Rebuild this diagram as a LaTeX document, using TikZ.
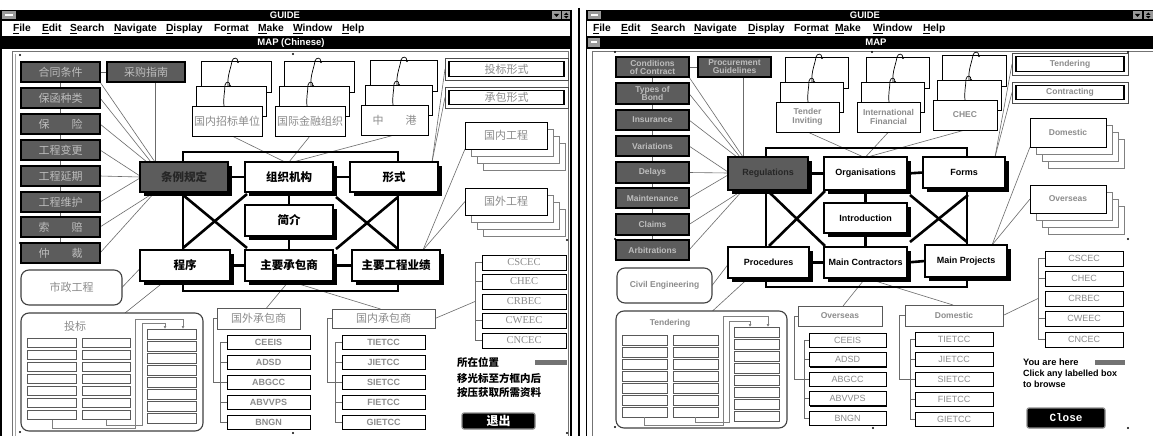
\documentclass[tikz,border=0pt]{standalone}
\usepackage{fontspec}
\setmainfont{Liberation Sans}
\newfontfamily\cjk{Noto Sans CJK SC}
\newfontfamily\serifL{Liberation Serif}
\newfontfamily\monoL{Liberation Mono}
\usetikzlibrary{shadows,arrows.meta}
\definecolor{dbox}{gray}{0.36}
\definecolor{dtxt}{gray}{0.74}
\definecolor{gtxt}{gray}{0.55}
\definecolor{gline}{gray}{0.42}
\definecolor{barc}{gray}{0.45}
\newcommand\myfs[1]{\fontsize{#1}{#1}\selectfont}
\newcommand\zhf{\cjk\myfs{11}}
\newcommand\zhb{\cjk\bfseries\myfs{11.5}}
\newcommand\enb{\bfseries\myfs{8.5}}
\newcommand\enm{\bfseries\myfs{9}}
\newcommand\mybox[7][]{\node[#1,minimum width={((#5)-(#3))*1pt},minimum height={((#6)-(#4))*1pt}] (#2) at ({((#3)+(#5))/2},{((#4)+(#6))/2}) {#7};}
\newcommand\cards[7]{%
\draw[card] ({#2+9},{#3-44}) rectangle ++(#4,#5);
\draw[wire] ({#2+36},{#3-20}) .. controls ({#2+35},{#3-30}) and ({#2+39},{#3-38}) .. ({#2+40},{#3-45}) .. controls ({#2+41},{#3-49}) and ({#2+46},{#3-49}) .. ({#2+46},{#3-44});
\fill ({#2+46},{#3-44}) circle (1.2pt);
\draw[card] ({#2+4},{#3-20}) rectangle ++(#4,#5);
\draw[wire] ({#2+32},{#3}) .. controls ({#2+31},{#3-8}) and ({#2+33},{#3-15}) .. ({#2+33},{#3-21}) .. controls ({#2+34},{#3-25}) and ({#2+38},{#3-25}) .. ({#2+38},{#3-20});
\fill ({#2+38},{#3-20}) circle (1.2pt);
\mybox[card,text=gtxt,font=#7,align=center]{#1}{#2}{#3}{#2+#4}{#3+#5}{#6}}
\newcommand\stack[7]{%
\foreach \k in {3,2,1}{\draw[backcard] ({#2+6*\k},{#3+7*\k}) rectangle ({#4+6*\k},{#5+7*\k});}
\mybox[card,text=gtxt,font=#7]{#1}{#2}{#3}{#4}{#5}{#6}}
\newcommand\dbl[7]{\draw[black!70,line width=0.9pt,fill=white] (#2,#3) rectangle (#4,#5);
\mybox[draw=black,line width=1.4pt,fill=white,text=gtxt,font=#7]{#1}{#2+4}{#3+3.5}{#4-4}{#5-3.5}{#6}}
\pgfdeclarelayer{bgw}\pgfdeclarelayer{bgl}
\pgfsetlayers{bgw,bgl,main}
\begin{document}
\begin{tikzpicture}[x=1pt,y=-1pt,
 every node/.style={inner sep=0pt,outer sep=0pt},
 dk/.style={draw=black,line width=1.1pt,fill=dbox,text=dtxt,general shadow={fill=black,shadow xshift=1.2pt,shadow yshift=-1.2pt}},
 mainb/.style={draw=black,line width=1.4pt,fill=white,general shadow={fill=black,shadow xshift=3.5pt,shadow yshift=-3.5pt}},
 regb/.style={mainb,fill=dbox,text=black!85},
 card/.style={draw=black,line width=1pt,fill=white,general shadow={fill=black,shadow xshift=1.2pt,shadow yshift=-1.2pt}},
 backcard/.style={draw=black!50,line width=0.8pt,fill=white},
 lbox/.style={draw=black,line width=0.9pt,fill=white,text=gtxt,general shadow={fill=black,shadow xshift=1pt,shadow yshift=-1pt}},
 gbox/.style={draw=black!65,line width=0.9pt,fill=white,text=gtxt},
 rbox/.style={draw=black!75,line width=1.1pt,rounded corners=8pt,fill=white,text=gtxt},
 sbox/.style={draw=black!65,line width=0.8pt,fill=white},
 conn/.style={draw=gline,line width=0.6pt},
 bl/.style={draw=black,line width=2.6pt},
 btn/.style={fill=black,draw=black!45,line width=1.2pt,rounded corners=2pt,text=white},
 wire/.style={draw=black,line width=0.7pt},
 gconn/.style={draw=black!50,line width=1pt},
 tip/.style={-{Latex[length=3pt,width=3pt]}},
 menu/.style={anchor=west,font=\bfseries\myfs{10.3}}
]
\useasboundingbox (0,0) rectangle (1153,436);
\begin{pgfonlayer}{bgw}
\fill[white] (0,0) rectangle (1153,436);
\end{pgfonlayer}

% ================= LEFT WINDOW (Chinese) =================
\fill[black] (0,10) rectangle (571,21);
\fill[black!40] (2,11.5) rectangle (16,19.5); \fill[white] (5,14.5) rectangle (13,16.5);
\node[text=white,font=\bfseries\myfs{9.5}] (zt) at (285,15.7) {GUIDE};
\fill[black!40] (552,11.5) rectangle (561,19.5); \fill (554,14) -- (559,14) -- (556.5,17) -- cycle;
\fill[black!40] (562,11.5) rectangle (570.5,19.5); \fill (564,14.8) -- (568.5,14.8) -- (566.25,12.5) -- cycle; \fill (564,16.2) -- (568.5,16.2) -- (566.25,18.5) -- cycle;
\foreach \x/\t in {13/{\underline{F}ile},42/{\underline{E}dit},70/{\underline{S}earch},114/{\underline{N}avigate},166/{\underline{D}isplay},214/{Fo\underline{r}mat},258/{\underline{M}ake},293/{\underline{W}indow},342/{\underline{H}elp}}
  \node[menu] at (\x,29) {\t};
\fill[black] (0,36) rectangle (571,49);
\node[text=white,font=\bfseries\myfs{9.5}] (zmap) at (291,42.7) {MAP (Chinese)};
\draw[black,line width=1.5pt] (0.75,10) -- (0.75,436);
\draw[black,line width=1.2pt] (571,10) -- (571,436);
\draw[black!55,line width=0.8pt] (12,436) -- (12,51.5) -- (568,51.5) -- (568,436);
\draw[black!35,line width=0.6pt] (15,436) -- (15,54);

% dark column
\mybox[dk,font=\zhf]{zc1}{21}{62}{100}{82}{合同条件}
\mybox[dk,font=\zhf]{zc2}{21}{88}{100}{108}{保函种类}
\mybox[dk,font=\zhf]{zc3}{21}{114}{100}{134}{保\hspace{2em}险}
\mybox[dk,font=\zhf]{zc4}{21}{140}{100}{160}{工程变更}
\mybox[dk,font=\zhf]{zc5}{21}{166}{100}{186}{工程延期}
\mybox[dk,font=\zhf]{zc6}{21}{192}{100}{212}{工程维护}
\mybox[dk,font=\zhf]{zc7}{21}{217}{100}{237}{索\hspace{2em}赔}
\mybox[dk,font=\zhf]{zc8}{21}{243}{100}{263}{仲\hspace{2em}裁}
\mybox[dk,font=\zhf]{zcg}{107}{62}{185}{82}{采购指南}

% central boxes
\mybox[regb,font=\zhb]{zreg}{140}{162}{228}{192}{条例规定}
\mybox[mainb,font=\zhb]{zorg}{245}{162}{333}{192}{组织机构}
\mybox[mainb,font=\zhb]{zfrm}{350}{162}{438}{192}{形式}
\mybox[mainb,font=\zhb]{zint}{245}{205}{333}{236}{简介}
\mybox[mainb,font=\zhb]{zproc}{140}{250}{230}{281}{程序}
\mybox[mainb,font=\zhb]{zmc}{245}{250}{333}{281}{主要承包商}
\mybox[mainb,font=\zhb]{zmp}{352}{250}{440}{281}{主要工程业绩}

% top cards
\cards{zk1}{192}{106}{70}{30}{国内招标单位}{\zhf}
\cards{zk2}{275}{106}{70}{30}{国际金融组织}{\zhf}
\cards{zk3}{361}{105}{67}{30}{中\hspace{2em}港}{\zhf}

% forms
\dbl{ztb}{445}{58}{568}{80}{投标形式}{\zhf}
\dbl{zcb}{445}{87}{568}{108}{承包形式}{\zhf}

% project stacks
\stack{zgn}{465}{122}{547}{149}{国内工程}{\zhf}
\stack{zgw}{465}{188}{547}{215}{国外工程}{\zhf}

% right list
\mybox[lbox,font=\serifL\myfs{10.5}]{zCSCEC}{482}{255}{566}{270}{CSCEC}
\mybox[lbox,font=\serifL\myfs{10.5}]{zCHEC}{482}{274}{566}{289}{CHEC}
\mybox[lbox,font=\serifL\myfs{10.5}]{zCRBEC}{482}{294}{566}{309}{CRBEC}
\mybox[lbox,font=\serifL\myfs{10.5}]{zCWEEC}{482}{313}{566}{328}{CWEEC}
\mybox[lbox,font=\serifL\myfs{10.5}]{zCNCEC}{482}{333}{566}{348}{CNCEC}

% contractors
\mybox[gbox,font=\zhf]{zgwc}{217}{308}{300}{329}{国外承包商}
\mybox[gbox,font=\zhf]{zgnc}{332}{309}{435}{328}{国内承包商}
\mybox[lbox,font=\bfseries\myfs{9}]{zCEEIS}{227}{335}{310}{349}{CEEIS}
\mybox[lbox,font=\bfseries\myfs{9}]{zADSD}{227}{355}{310}{369}{ADSD}
\mybox[lbox,font=\bfseries\myfs{9}]{zABGCC}{227}{375}{310}{389}{ABGCC}
\mybox[lbox,font=\bfseries\myfs{9}]{zABVVPS}{227}{395}{310}{409}{ABVVPS}
\mybox[lbox,font=\bfseries\myfs{9}]{zBNGN}{227}{415}{310}{429}{BNGN}
\mybox[lbox,font=\bfseries\myfs{9}]{zTIETCC}{342}{335}{425}{349}{TIETCC}
\mybox[lbox,font=\bfseries\myfs{9}]{zJIETCC}{342}{355}{425}{369}{JIETCC}
\mybox[lbox,font=\bfseries\myfs{9}]{zSIETCC}{342}{375}{425}{389}{SIETCC}
\mybox[lbox,font=\bfseries\myfs{9}]{zFIETCC}{342}{395}{425}{409}{FIETCC}
\mybox[lbox,font=\bfseries\myfs{9}]{zGIETCC}{342}{415}{425}{429}{GIETCC}

% rounded groups
\mybox[rbox,font=\zhf]{zsz}{21}{270}{122}{305}{市政工程}
\mybox[rbox]{ztbg}{21}{313}{203}{431}{}
\node[text=gtxt,font=\zhf] (ztbt) at (75,326) {投标};
\foreach \y in {338,350,362,374,386,398,410}{
  \draw[sbox] (27,\y) rectangle (76,\y+9.5);
  \draw[sbox] (82,\y) rectangle (130,\y+9.5);}
\foreach \y in {329,341,353,365,377,389,401,413}{
  \draw[sbox] (147,\y) rectangle (196,\y+10);}
\coordinate (za1) at (52,419.5); \coordinate (za2) at (106,419.5);
\coordinate (zb1) at (183,329); \coordinate (zb2) at (165,329);
\draw[gconn,tip] (za1) -- (52,428) -- (135,428) -- (135,319) -- (183,319) -- (zb1);
\draw[gconn,tip] (za2) -- (106,425) -- (142,425) -- (142,323) -- (165,323) -- (zb2);

% legend
\node[anchor=west,font=\cjk\bfseries\myfs{10.5}] (zl1) at (457,362) {所在位置};
\fill[barc] (535,360) rectangle (567,364.5);
\node[anchor=west,font=\cjk\bfseries\myfs{10.5}] (zl2) at (457,378) {移光标至方框内后};
\node[anchor=west,font=\cjk\bfseries\myfs{10.5}] (zl3) at (457,393) {按压获取所需资料};
\mybox[btn,font=\cjk\bfseries\myfs{12}]{zexit}{462}{413}{535}{429}{退出}

\foreach \p in {(20,55),(293,54),(20,243),(20,432),(293,433),(567,240),(567,433)} \fill \p circle (1.1pt);

\begin{pgfonlayer}{bgl}
\draw[conn] (zc1.south east) -- (155,162);
\draw[conn] (zc2.east) -- (151,162);
\draw[conn] (zc3.east) -- (147,162);
\draw[conn] (zc4.east) -- (140,176);
\draw[conn] (zc5.east) -- (140,177);
\draw[conn] (zc6.east) -- (140,178);
\draw[conn] (zc7.east) -- (155,192);
\draw[conn] (zc8.east) -- (155,192);
\draw[conn] (zc1.south) -- (zc8.north);
\draw[conn] (zc1.east) -- (zcg.west);
\draw[conn] ([xshift=9pt]zcg.south) -- ([xshift=9pt]zcg.south |- zreg.north);
\draw[conn] ([xshift=5pt]zk1.south) -- ([xshift=-4pt]zorg.north);
\draw[conn] (zk2.south) -- (zorg.north);
\draw[conn] (zk3.south) -- ([xshift=4pt]zorg.north);
\draw[conn] ([xshift=-4pt]ztb.west) -- ([xshift=38pt]zfrm.north);
\draw[conn] ([xshift=-4pt]zcb.west) -- ([xshift=38pt]zfrm.north);
\draw[conn] (zgn.south west) -- ([xshift=27pt]zmp.north);
\draw[conn] (zgw.west) -- ([xshift=27pt]zmp.north);
\draw[conn] (zmc.south) -- ([xshift=8pt]zgwc.north);
\draw[conn] (zmc.south) -- ([xshift=-3pt]zgnc.north);
\draw[conn] (zsz.east) -- ([yshift=-3pt]zproc.west);
\draw[conn] ([xshift=13pt]ztbg.north) -- ([xshift=-20pt]zproc.south);
\draw[conn] (zgwc.west) -- ++(-4,0) |- (zABGCC.west);
\draw[conn] (zCEEIS.west) -- ++(-7,0) |- (zBNGN.west);
\draw[conn] (zADSD.west) -- ++(-7,0);
\draw[conn] (zABVVPS.west) -- ++(-7,0);
\draw[conn] (zgnc.west) -- ++(-5,0) |- (zSIETCC.west);
\draw[conn] (zTIETCC.west) -- ++(-7,0) |- (zGIETCC.west);
\draw[conn] (zJIETCC.west) -- ++(-7,0);
\draw[conn] (zFIETCC.west) -- ++(-7,0);
\draw[conn] (zCSCEC.west) -- ++(-7,0) |- (zCNCEC.west);
\draw[conn] (zCHEC.west) -- ++(-7,0);
\draw[conn] (zCWEEC.west) -- ++(-7,0);
\draw[conn] (zgnc.east) -- ([xshift=-7pt]zCRBEC.west);
% frame and crosses
\draw[bl] (183,152) rectangle (398,291);
\draw[bl] (183,195) -- (247,248);
\draw[bl] (183,248) -- (247,194);
\draw[bl] (336,197) -- (398,249);
\draw[bl] (336,249) -- (398,197);
\draw[bl] (zreg.east) -- (zorg.west);
\draw[bl] (zorg.east) -- (zfrm.west);
\draw[bl] (zorg.south) -- (zint.north);
\draw[bl] (zint.south) -- (zmc.north);
\draw[bl] (zproc.east) -- (zmc.west);
\draw[bl] (zmc.east) -- (zmp.west);
\end{pgfonlayer}

% ================= RIGHT WINDOW (English) =================
\draw[black,line width=2pt] (579,8) -- (579,436);
\fill[black] (586,10) rectangle (1153,21);
\fill[black!40] (588,11.5) rectangle (601,19.5); \fill[white] (591,14.5) rectangle (598,16.5);
\node[text=white,font=\bfseries\myfs{9.5}] (et) at (865,15.7) {GUIDE};
\fill[black!40] (1133,11.5) rectangle (1142,19.5); \fill (1135,14) -- (1140,14) -- (1137.5,17) -- cycle;
\fill[black!40] (1144,11.5) rectangle (1153,19.5); \fill (1146,14.8) -- (1150.5,14.8) -- (1148.25,12.5) -- cycle; \fill (1146,16.2) -- (1150.5,16.2) -- (1148.25,18.5) -- cycle;
\foreach \x/\t in {593/{\underline{F}ile},621/{\underline{E}dit},651/{\underline{S}earch},694/{\underline{N}avigate},748/{\underline{D}isplay},794/{Fo\underline{r}mat},835/{\underline{M}ake},873/{\underline{W}indow},923/{\underline{H}elp}}
  \node[menu] at (\x,29) {\t};
\fill[black] (586,36) rectangle (1153,49);
\fill[black!40] (588,38) rectangle (600,47); \fill[white] (591,41.5) rectangle (597,43.2);
\node[text=white,font=\bfseries\myfs{9.5}] (emap) at (876,42.7) {MAP};
\draw[black,line width=1.5pt] (586.5,10) -- (586.5,436);
\draw[black!55,line width=0.8pt] (592,436) -- (592,51.5) -- (1153,51.5);

\mybox[dk,font=\enb,align=center]{ec1}{616}{57}{689}{77}{Conditions\\[-0.5pt]of Contract}
\mybox[dk,font=\enb,align=center]{ec2}{616}{83}{689}{104}{Types of\\[-0.5pt]Bond}
\mybox[dk,font=\enb]{ec3}{616}{110}{689}{130}{Insurance}
\mybox[dk,font=\enb]{ec4}{616}{136}{689}{156}{Variations}
\mybox[dk,font=\enb]{ec5}{616}{162}{689}{183}{Delays}
\mybox[dk,font=\enb]{ec6}{616}{188}{689}{208}{Maintenance}
\mybox[dk,font=\enb]{ec7}{616}{214}{689}{235}{Claims}
\mybox[dk,font=\enb]{ec8}{616}{240}{689}{260}{Arbitrations}
\mybox[dk,font=\enb,align=center]{ecg}{698}{57}{771}{77}{Procurement\\[-0.5pt]Guidelines}

\mybox[regb,font=\enm]{ereg}{728}{157}{808}{190}{Regulations}
\mybox[mainb,font=\enm]{eorg}{824}{157}{907}{190}{Organisations}
\mybox[mainb,font=\enm]{efrm}{923}{157}{1005}{188}{Forms}
\mybox[mainb,font=\enm]{eint}{824}{203}{907}{233}{Introduction}
\mybox[mainb,font=\enm]{eproc}{728}{247}{809}{278}{Procedures}
\mybox[mainb,font=\enm]{emc}{824}{247}{907}{278}{Main Contractors}
\mybox[mainb,font=\enm]{emp}{925}{245}{1007}{277}{Main Projects}

\cards{ek1}{776}{102}{63}{30}{Tender\\[0.5pt]Inviting}{\enb}
\cards{ek2}{857}{102}{63}{30}{International\\[0.5pt]Financial}{\enb}
\cards{ek3}{933}{100}{64}{30}{CHEC}{\enb}

\dbl{etb}{1012}{53}{1128}{75}{Tendering}{\enb}
\dbl{ecb}{1012}{82}{1128}{103}{Contracting}{\enb}

\stack{edm}{1030}{118}{1106}{147}{Domestic}{\enb}
\stack{eov}{1030}{185}{1106}{213}{Overseas}{\enb}

\mybox[lbox,font=\myfs{9}]{eCSCEC}{1045}{251}{1123}{266}{CSCEC}
\mybox[lbox,font=\myfs{9}]{eCHEC}{1045}{271}{1123}{286}{CHEC}
\mybox[lbox,font=\myfs{9}]{eCRBEC}{1045}{291}{1123}{306}{CRBEC}
\mybox[lbox,font=\myfs{9}]{eCWEEC}{1045}{311}{1123}{326}{CWEEC}
\mybox[lbox,font=\myfs{9}]{eCNCEC}{1045}{332}{1123}{347}{CNCEC}

\mybox[gbox,font=\enb]{eovc}{798}{306}{882}{326}{Overseas}
\mybox[gbox,font=\enb]{edmc}{905}{305}{1003}{326}{Domestic}
\mybox[lbox,font=\myfs{9}]{eCEEIS}{809}{333}{886}{347}{CEEIS}
\mybox[lbox,font=\myfs{9}]{eADSD}{809}{352.5}{886}{366.5}{ADSD}
\mybox[lbox,font=\myfs{9}]{eABGCC}{809}{372}{886}{386}{ABGCC}
\mybox[lbox,font=\myfs{9}]{eABVVPS}{809}{391.5}{886}{405.5}{ABVVPS}
\mybox[lbox,font=\myfs{9}]{eBNGN}{809}{411}{886}{425}{BNGN}
\mybox[lbox,font=\myfs{9}]{eTIETCC}{915}{332}{993}{346}{TIETCC}
\mybox[lbox,font=\myfs{9}]{eJIETCC}{915}{352}{993}{366}{JIETCC}
\mybox[lbox,font=\myfs{9}]{eSIETCC}{915}{372}{993}{386}{SIETCC}
\mybox[lbox,font=\myfs{9}]{eFIETCC}{915}{392}{993}{406}{FIETCC}
\mybox[lbox,font=\myfs{9}]{eGIETCC}{915}{412}{993}{426}{GIETCC}

\mybox[rbox,font=\enb]{ecv}{617}{268}{712}{303}{Civil Engineering}
\mybox[rbox]{etbg}{616}{311}{787}{428}{}
\node[text=gtxt,font=\enb] (etbt) at (670,323) {Tendering};
\foreach \y in {335,347,359,371,383,395,407}{
  \draw[sbox] (622,\y) rectangle (667,\y+10);
  \draw[sbox] (673,\y) rectangle (718,\y+10);}
\foreach \y in {327,339,351,363,375,387,399,411}{
  \draw[sbox] (734,\y) rectangle (779,\y+10);}
\coordinate (ea1) at (644,417); \coordinate (ea2) at (695,417);
\coordinate (eb1) at (768,327); \coordinate (eb2) at (750,327);
\draw[gconn,tip] (ea1) -- (644,425) -- (723,425) -- (723,316) -- (768,316) -- (eb1);
\draw[gconn,tip] (ea2) -- (695,422) -- (729,422) -- (729,321) -- (750,321) -- (eb2);

\node[anchor=west,font=\bfseries\myfs{9.3}] (el1) at (1023,362) {You are here};
\fill[barc] (1095,360) rectangle (1125,364.5);
\node[anchor=west,font=\bfseries\myfs{9}] (el2) at (1023,374) {Click any labelled box};
\node[anchor=west,font=\bfseries\myfs{9}] (el3) at (1023,384) {to browse};
\mybox[btn,font=\monoL\bfseries\myfs{11}]{eclose}{1027}{408}{1105}{428}{Close}

\foreach \p in {(615,52),(872,52),(1128,52),(615,239),(1128,239),(615,427),(873,428),(1128,428)} \fill \p circle (1.1pt);

\begin{pgfonlayer}{bgl}
\draw[conn] (ec1.south east) -- (743,157);
\draw[conn] (ec2.east) -- (740,157);
\draw[conn] (ec3.east) -- (737,157);
\draw[conn] (ec4.east) -- (728,172);
\draw[conn] (ec5.east) -- (728,173);
\draw[conn] (ec6.east) -- (728,175);
\draw[conn] (ec7.east) -- (743,190);
\draw[conn] (ec8.east) -- (743,190);
\draw[conn] (ec1.south) -- (ec8.north);
\draw[conn] (ec1.east) -- (ecg.west);
\draw[conn] ([xshift=8.5pt]ecg.south) -- ([xshift=8.5pt]ecg.south |- ereg.north);
\draw[conn] (ek1.south) -- ([xshift=-2pt]eorg.north);
\draw[conn] (ek2.south) -- (eorg.north);
\draw[conn] (ek3.south) -- ([xshift=2pt]eorg.north);
\draw[conn] ([xshift=-4pt]etb.west) -- ([xshift=31pt]efrm.north);
\draw[conn] ([xshift=-4pt]ecb.west) -- ([xshift=31pt]efrm.north);
\draw[conn] (edm.south west) -- ([xshift=26pt]emp.north);
\draw[conn] (eov.west) -- ([xshift=26pt]emp.north);
\draw[conn] (emc.south) -- ([xshift=3pt]eovc.north);
\draw[conn] (emc.south) -- ([xshift=-1pt]edmc.north);
\draw[conn] (ecv.east) -- ([yshift=-2pt]eproc.west);
\draw[conn] ([xshift=11pt]etbg.north) -- ([xshift=-20pt]eproc.south);
\draw[conn] (eovc.west) -- ++(-4,0) |- (eABGCC.west);
\draw[conn] (eCEEIS.west) -- ++(-5,0) |- (eBNGN.west);
\draw[conn] (eADSD.west) -- ++(-5,0);
\draw[conn] (eABVVPS.west) -- ++(-5,0);
\draw[conn] (edmc.west) -- ++(-6,0) |- (eSIETCC.west);
\draw[conn] (eTIETCC.west) -- ++(-5,0) |- (eGIETCC.west);
\draw[conn] (eJIETCC.west) -- ++(-5,0);
\draw[conn] (eFIETCC.west) -- ++(-5,0);
\draw[conn] (eCSCEC.west) -- ++(-7,0) |- (eCNCEC.west);
\draw[conn] (eCHEC.west) -- ++(-7,0);
\draw[conn] (eCWEEC.west) -- ++(-7,0);
\draw[conn] (edmc.east) -- ([xshift=-7pt]eCRBEC.west);
\draw[bl] (766,148) rectangle (967,287);
\draw[bl] (770,193) -- (825,246);
\draw[bl] (769,246) -- (825,191);
\draw[bl] (910,195) -- (967,242);
\draw[bl] (910,242) -- (968,195);
\draw[bl] (ereg.east) -- (eorg.west);
\draw[bl] (eorg.east) -- (efrm.west);
\draw[bl] (eorg.south) -- (eint.north);
\draw[bl] (eint.south) -- (emc.north);
\draw[bl] (eproc.east) -- (emc.west);
\draw[bl] (emc.east) -- (emp.west);
\end{pgfonlayer}
\end{tikzpicture}
\end{document}
